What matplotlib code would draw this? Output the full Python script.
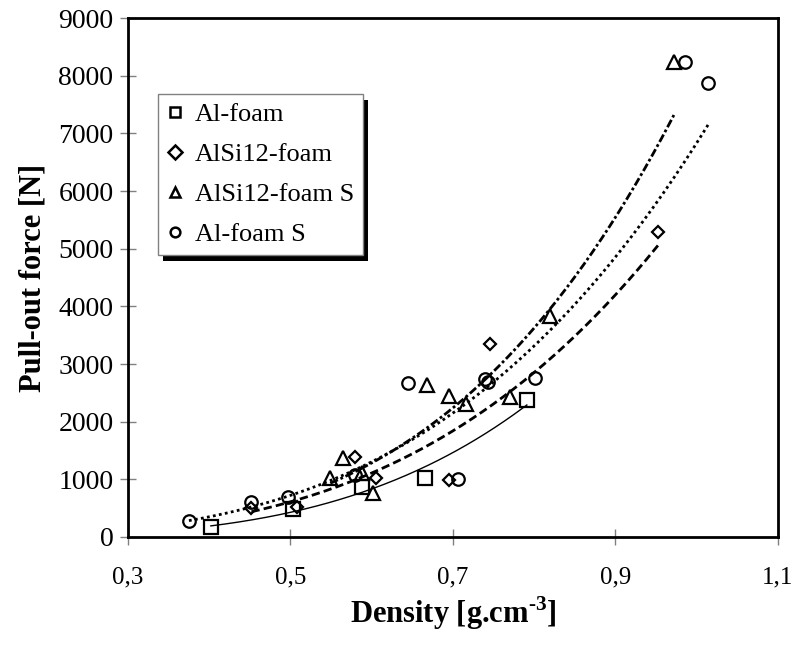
import matplotlib.pyplot as plt
import numpy as np
from matplotlib.ticker import FuncFormatter
from matplotlib.patches import Rectangle

plt.rcParams['font.family'] = ['Liberation Serif', 'DejaVu Serif']
plt.rcParams['mathtext.fontset'] = 'custom'
plt.rcParams['mathtext.bf'] = 'Liberation Serif:bold'
plt.rcParams['mathtext.rm'] = 'Liberation Serif:bold'

# Al-foam
d_al = [0.402, 0.503, 0.588, 0.666, 0.791]
f_al = [180, 480, 873, 1018, 2376]
# AlSi12-foam
d_alsi = [0.452, 0.508, 0.579, 0.605, 0.695, 0.746, 0.953]
f_alsi = [500, 526, 1382, 1029, 988, 3347, 5294]
# AlSi12-foam S
d_alsi_s = [0.549, 0.565, 0.588, 0.602, 0.668, 0.695, 0.716, 0.770, 0.819, 0.972]
f_alsi_s = [1029, 1365, 1110, 768, 2636, 2445, 2306, 2433, 3832, 8230]
# Al-foam S
d_al_s = [0.375, 0.452, 0.497, 0.579, 0.645, 0.706, 0.740, 0.743, 0.801, 0.986, 1.014]
f_al_s = [283, 612, 700, 1075, 2676, 1006, 2735, 2693, 2752, 8242, 7878]

labels = ['Al-foam', 'AlSi12-foam', 'AlSi12-foam S', 'Al-foam S']
markers = ['s', 'D', '^', 'o']
msizes = [9.5, 6.5, 10, 9]
styles = ['-', (0, (3, 1.5)), (0, (3, 1, 1, 1)), (0, (1, 1.2))]
widths = [1.0, 2.0, 2.0, 2.0]

fig = plt.figure(figsize=(7.97, 6.48), dpi=100)
ax = fig.add_axes([0.1606, 0.1713, 0.8154, 0.8009])

series = [(d_al, f_al), (d_alsi, f_alsi), (d_alsi_s, f_alsi_s), (d_al_s, f_al_s)]
handles = []
for (d, f), lab, m, ms, ls, lw in zip(series, labels, markers, msizes, styles, widths):
    d = np.array(d)
    f = np.array(f)
    # power trend line
    b, lna = np.polyfit(np.log(d), np.log(f), 1)
    xx = np.linspace(d.min(), d.max(), 200)
    ax.plot(xx, np.exp(lna) * xx ** b, color='black', ls=ls, lw=lw, zorder=2)
    h, = ax.plot(d, f, ls='none', marker=m, ms=ms, mfc='none', mec='black',
                 mew=1.6, label=lab, zorder=3)
    handles.append(h)

ax.set_xlim(0.3, 1.1)
ax.set_ylim(0, 9000)
ax.set_xticks([0.3, 0.5, 0.7, 0.9, 1.1])
ax.set_yticks(range(0, 9001, 1000))
ax.xaxis.set_major_formatter(FuncFormatter(lambda v, p: ('%.1f' % v).replace('.', ',')))
ax.tick_params(direction='inout', length=11, width=1, color='gray')
ax.tick_params(axis='x', pad=16, labelsize=18)
ax.tick_params(axis='y', pad=5, labelsize=20)
for s in ax.spines.values():
    s.set_linewidth(2)

ax.set_xlabel('Density [g.cm$^{\\text{-}3}$]', fontsize=22, fontweight='bold',
              labelpad=4)
ax.set_ylabel('Pull-out force [N]', fontsize=22, fontweight='bold', labelpad=8)

leg = ax.legend(handles=handles, loc='upper left', bbox_to_anchor=(0.046, 0.854),
                fontsize=19, frameon=True, fancybox=False, edgecolor='gray',
                facecolor='white', framealpha=1,
                handlelength=0.6, handletextpad=0.45, borderpad=0.35,
                labelspacing=0.62, borderaxespad=0)
leg.get_frame().set_linewidth(1)
for lh in leg.legend_handles:
    lh.set_markersize(7)
    lh.set_markeredgewidth(1.8)
leg.set_zorder(5)

fig.canvas.draw()
bb = leg.get_window_extent()
shadow = Rectangle((bb.x0 + 5, bb.y0 - 6), bb.width, bb.height, transform=None,
                   facecolor='black', edgecolor='none', zorder=4)
ax.add_artist(shadow)

fig.savefig('out.png', dpi=100)
